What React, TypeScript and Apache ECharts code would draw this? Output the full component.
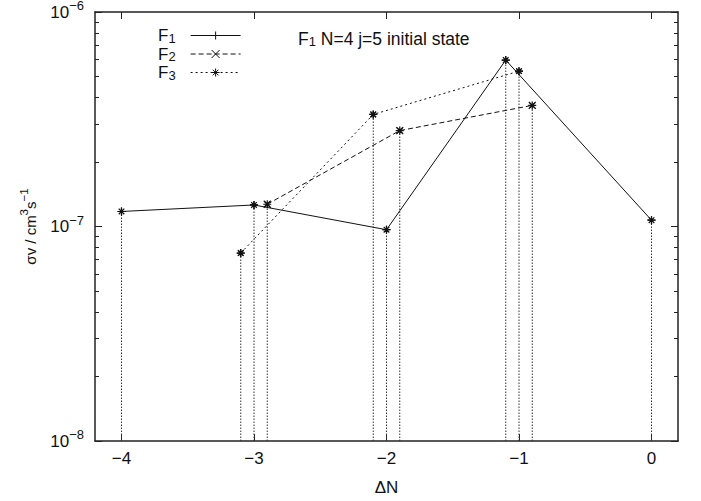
import React, { useEffect, useRef } from "react";
import * as echarts from "echarts";

// ---- data ----
const seriesNames = ["F1", "F2", "F3"];
const f1X = [-4, -3, -2, -1.1, 0];
const f1Y = [1.175e-7, 1.26e-7, 9.66e-8, 5.97e-7, 1.07e-7];
const f2X = [-2.9, -1.9, -0.9];
const f2Y = [1.27e-7, 2.8e-7, 3.67e-7];
const f3X = [-3.1, -2.1, -1.0];
const f3Y = [7.52e-8, 3.33e-7, 5.3e-7];

const xTicks = [-4, -3, -2, -1, 0];
const yMajorTicks = [1e-8, 1e-7, 1e-6];
const yMinorTicks = [
  2e-8, 3e-8, 4e-8, 5e-8, 6e-8, 7e-8, 8e-8, 9e-8,
  2e-7, 3e-7, 4e-7, 5e-7, 6e-7, 7e-7, 8e-7, 9e-7,
];
const titleText = "N=4 j=5 initial state";
const xName = "ΔN";

const FONT = "'Liberation Sans', Arial, Helvetica, sans-serif";
const INK = "#111";
const AXIS = "#222";

const PLUS = "path://M0 5L10 5M5 0L5 10";
const CROSS = "path://M1 1L9 9M1 9L9 1";
const STAR = "path://M0 5L10 5M5 0L5 10M1.5 1.5L8.5 8.5M1.5 8.5L8.5 1.5";

function subRich(size: number) {
  return {
    m: { fontSize: size, lineHeight: 18, fontWeight: "normal", fontFamily: FONT, color: INK },
    sub: { fontSize: 13, lineHeight: 8, verticalAlign: "bottom", fontWeight: "normal", fontFamily: FONT, color: INK },
  };
}

const supRich = {
  m: { fontSize: 17, lineHeight: 26, fontFamily: FONT, color: INK },
  s: { fontSize: 13, lineHeight: 12, verticalAlign: "top", fontFamily: FONT, color: INK },
};

const nameRich = {
  m: { fontSize: 15, lineHeight: 24, fontFamily: FONT, color: INK },
  s: { fontSize: 11.5, lineHeight: 12, verticalAlign: "top", fontFamily: FONT, color: INK },
};

function pairs(xs: number[], ys: number[]) {
  return xs.map((x, i) => [x, ys[i]]);
}

export default function App() {
  const ref = useRef<HTMLDivElement>(null);
  useEffect(() => {
    document.body.style.margin = "0";
    if (!ref.current) return;
    const chart = echarts.init(ref.current, null, { renderer: "svg" });

    const d1 = pairs(f1X, f1Y);
    const d2 = pairs(f2X, f2Y);
    const d3 = pairs(f3X, f3Y);
    const all = [...d1, ...d2, ...d3];

    const yMin = yMajorTicks[0];
    const yMax = yMajorTicks[yMajorTicks.length - 1];
    const xMin = -4.2;
    const xMax = 0.2;

    const xBase = {
      type: "value",
      min: xMin,
      max: xMax,
      splitLine: { show: false },
      axisLine: { show: true, onZero: false, lineStyle: { color: AXIS, width: 1.5 } },
      axisTick: { show: true, inside: true, length: 7, customValues: xTicks, lineStyle: { color: AXIS } },
    };
    const yBase = {
      type: "log",
      logBase: 10,
      min: yMin,
      max: yMax,
      splitLine: { show: false },
      minorTick: { show: false },
    };
    const yLine = { show: true, onZero: false, lineStyle: { color: AXIS, width: 1.5 } };
    const yNoLine = { show: false, onZero: false };

    const legendRich = subRich(17);
    const option: any = {
      animation: false,
      textStyle: { fontFamily: FONT },
      grid: { left: 95, right: 23, top: 12, bottom: 60, containLabel: false, outerBoundsMode: "none" },
      title: {
        text: "{m|F}{sub|1}{m| " + titleText + "}",
        left: 298,
        top: 30,
        padding: 0,
        textStyle: { fontWeight: "normal", fontSize: 17.5, rich: subRich(17.5) },
      },
      legend: {
        data: seriesNames,
        orient: "vertical",
        left: 158,
        top: 27,
        padding: 0,
        itemGap: 1,
        itemWidth: 50,
        itemHeight: 10,
        align: "right",
        lineStyle: { width: 1 },
        itemStyle: { borderWidth: 1 },
        formatter: (name: string) => "{m|F}{sub|" + name.slice(1) + "}",
        textStyle: {
          fontSize: 17,
          rich: {
            m: legendRich.m,
            sub: { ...legendRich.sub, padding: [0, 10, 0, 0] },
          },
        },
      },
      xAxis: [
        {
          ...xBase,
          position: "bottom",
          axisLabel: {
            show: true,
            customValues: xTicks,
            margin: 9,
            fontSize: 17,
            color: INK,
            fontFamily: FONT,
            formatter: (v: number) => (v < 0 ? "\u2212" + Math.abs(v) : String(v)),
          },
          name: xName,
          nameLocation: "middle",
          nameGap: 38,
          nameTextStyle: { fontSize: 17, color: INK, fontFamily: FONT },
        },
        {
          ...xBase,
          position: "top",
          axisLabel: { show: false },
        },
      ],
      yAxis: [
        {
          ...yBase,
          position: "left",
          axisLine: yLine,
          axisTick: { show: true, inside: true, length: 7, customValues: yMajorTicks, lineStyle: { color: AXIS } },
          axisLabel: {
            show: true,
            customValues: yMajorTicks,
            margin: 11,
            formatter: (v: number) => "{m|10}{s|\u2212" + Math.abs(Math.round(Math.log10(v))) + "}",
            rich: supRich,
          },
          name: "{m|\u03C3v / cm}{s|3}{m|s}{s|\u22121}",
          nameLocation: "middle",
          nameRotate: 90,
          nameGap: 53,
          nameTextStyle: { rich: nameRich },
        },
        {
          ...yBase,
          position: "left",
          axisLine: yNoLine,
          axisTick: { show: true, inside: true, length: 4, customValues: yMinorTicks, lineStyle: { color: AXIS } },
          axisLabel: { show: false },
        },
        {
          ...yBase,
          position: "right",
          axisLine: yLine,
          axisTick: { show: true, inside: true, length: 7, customValues: yMajorTicks, lineStyle: { color: AXIS } },
          axisLabel: { show: false },
        },
        {
          ...yBase,
          position: "right",
          axisLine: yNoLine,
          axisTick: { show: true, inside: true, length: 4, customValues: yMinorTicks, lineStyle: { color: AXIS } },
          axisLabel: { show: false },
        },
      ],
      series: [
        {
          name: "impulses",
          type: "custom",
          coordinateSystem: "cartesian2d",
          xAxisIndex: 0,
          yAxisIndex: 0,
          silent: true,
          z: 1,
          data: all,
          renderItem: (params: any, api: any) => {
            const x = api.value(0);
            const y = api.value(1);
            const top = api.coord([x, y]);
            const bot = api.coord([x, yMin]);
            return {
              type: "line",
              shape: { x1: bot[0], y1: bot[1], x2: top[0], y2: top[1] },
              style: { stroke: "#333", lineWidth: 1, lineDash: [1.5, 1.5] },
            };
          },
        },
        {
          name: seriesNames[0],
          type: "line",
          data: d1,
          z: 3,
          symbol: PLUS,
          symbolSize: 8,
          lineStyle: { color: INK, width: 1, type: "solid" },
          itemStyle: { color: INK, borderColor: INK, borderWidth: 1.2 },
        },
        {
          name: seriesNames[1],
          type: "line",
          data: d2,
          z: 3,
          symbol: CROSS,
          symbolSize: 7,
          lineStyle: { color: INK, width: 1, type: [5, 3] },
          itemStyle: { color: INK, borderColor: INK, borderWidth: 1.2 },
        },
        {
          name: seriesNames[2],
          type: "line",
          data: d3,
          z: 3,
          symbol: STAR,
          symbolSize: 8,
          lineStyle: { color: INK, width: 1, type: [2, 3] },
          itemStyle: { color: INK, borderColor: INK, borderWidth: 1.2 },
        },
        {
          name: "points",
          type: "scatter",
          data: all,
          z: 4,
          silent: true,
          symbol: STAR,
          symbolSize: 8,
          itemStyle: { color: INK, borderColor: INK, borderWidth: 1.2, opacity: 1 },
        },
      ],
    };

    chart.setOption(option);
    return () => chart.dispose();
  }, []);

  return <div ref={ref} style={{ width: 701, height: 501, overflow: "hidden" }} />;
}
